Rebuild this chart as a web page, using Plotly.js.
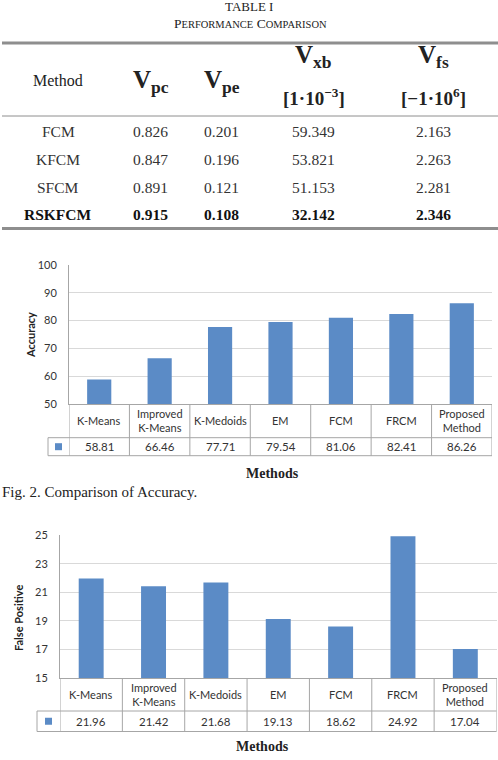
<!DOCTYPE html>
<html>
<head>
<meta charset="utf-8">
<script src="https://cdn.plot.ly/plotly-3.0.1.min.js"></script>
<style>
  html, body { margin: 0; padding: 0; background: #fff; }
  #fig { width: 498px; height: 760px; }
</style>
</head>
<body>
<div id="fig"></div>
<script>
// ---- Table I: performance comparison ----
const tableMethods = ['FCM', 'KFCM', 'SFCM', 'RSKFCM'];
const vpc = [0.826, 0.847, 0.891, 0.915];
const vpe = [0.201, 0.196, 0.121, 0.108];
const vxb = [59.349, 53.821, 51.153, 32.142];
const vfs = [2.163, 2.263, 2.281, 2.346];
const headerSubs = ['pc', 'pe', 'xb', 'fs'];
const headerUnits = ['', '', '[1·10<sup>−3</sup>]', '[−1·10<sup>6</sup>]'];

// ---- Fig. 2 / Fig. 3 bar charts ----
const methods = ['K-Means', 'Improved K-Means', 'K-Medoids', 'EM', 'FCM', 'FRCM', 'Proposed Method'];
const methodLabels = ['K-Means', 'Improved<br>K-Means', 'K-Medoids', 'EM', 'FCM', 'FRCM', 'Proposed<br>Method'];
const accuracy = [58.81, 66.46, 77.71, 79.54, 81.06, 82.41, 86.26];
const falsePositive = [21.96, 21.42, 21.68, 19.13, 18.62, 24.92, 17.04];

const W = 498, H = 760;
const px = x => x / W;
const py = y => 1 - y / H;

const BAR = '#5B8BC6';
const GRID = '#D9D9D9';
const EDGE = '#A6A6A6';
const SERIF = 'Liberation Serif, Times New Roman, serif';
const SANS = 'Lato, Open Sans, sans-serif';

const annotations = [];
const shapes = [];

function note(text, x, y, opts) {
  annotations.push(Object.assign({
    text: text, x: px(x), y: py(y), xref: 'paper', yref: 'paper',
    showarrow: false, xanchor: 'center', yanchor: 'middle',
    font: { family: SERIF, size: 15, color: '#222' }
  }, opts || {}));
}
function hline(x0, x1, y, color, width) {
  shapes.push({ type: 'line', xref: 'paper', yref: 'paper',
    x0: px(x0), x1: px(x1), y0: py(y), y1: py(y),
    line: { color: color, width: width } });
}

// Table title
note('TABLE I', 249, 6.5, { font: { family: SERIF, size: 13, color: '#222' } });
note('P<span style="font-size:10.5px">ERFORMANCE</span> C<span style="font-size:10.5px">OMPARISON</span>',
  250, 23.5, { font: { family: SERIF, size: 13.5, color: '#222' } });

// Table rules
hline(2, 498, 43, '#8E8E8E', 3);
hline(2, 498, 116, '#8E8E8E', 1);
hline(2, 498, 228.5, '#8E8E8E', 3);

// Header row
const colX = [58, 150.5, 221.5, 313.5, 433];
note('Method', colX[0], 80, { font: { family: SERIF, size: 16, color: '#222' } });
headerSubs.forEach((s, i) => {
  const hasUnit = headerUnits[i] !== '';
  note('<b>V<sub>' + s + '</sub></b>', colX[i + 1], hasUnit ? 57 : 81,
    { font: { family: SERIF, size: 25, color: '#222' } });
  if (hasUnit) {
    note('<b>' + headerUnits[i] + '</b>', colX[i + 1], 97,
      { font: { family: SERIF, size: 19, color: '#222' } });
  }
});

// Body rows
const rowY = [131.5, 159.5, 187.5, 214.5];
tableMethods.forEach((m, r) => {
  const bold = m === 'RSKFCM';
  const cells = [m, vpc[r].toFixed(3), vpe[r].toFixed(3), vxb[r].toFixed(3), vfs[r].toFixed(3)];
  cells.forEach((c, i) => {
    note(bold ? '<b>' + c + '</b>' : c, colX[i], rowY[r],
      { font: { family: SERIF, size: 15.5, color: bold ? '#111' : '#333' } });
  });
});

// ---- Chart panels with data table underneath ----
function panel(o) {
  const xa = o.ax === 1 ? 'x' : 'x' + o.ax;
  // table horizontal rules
  hline(o.legendLeft, o.right, o.row1, EDGE, 1);
  hline(o.legendLeft, o.right, o.row2, EDGE, 1);
  // legend cell left border
  shapes.push({ type: 'line', xref: 'paper', yref: 'paper',
    x0: px(o.legendLeft), x1: px(o.legendLeft), y0: py(o.row1), y1: py(o.row2),
    line: { color: EDGE, width: 1 } });
  // column separators follow the category bands
  for (let i = 0; i <= methods.length; i++) {
    shapes.push({ type: 'line', xref: xa, yref: 'paper',
      x0: i - 0.5, x1: i - 0.5, y0: py(o.bottom), y1: py(o.row2),
      line: { color: EDGE, width: 1 } });
  }
  // legend swatch
  const sx = (o.legendLeft + o.left) / 2;
  const sy = (o.row1 + o.row2) / 2;
  shapes.push({ type: 'rect', xref: 'paper', yref: 'paper',
    x0: px(sx - 3.5), x1: px(sx + 3.5), y0: py(sy + 3.5), y1: py(sy - 3.5),
    fillcolor: BAR, line: { width: 0 } });
  // category labels and values
  methods.forEach((m, i) => {
    annotations.push({ text: methodLabels[i], x: m, xref: xa, y: py((o.bottom + o.row1) / 2), yref: 'paper',
      showarrow: false, xanchor: 'center', yanchor: 'middle',
      font: { family: SANS, size: 11, color: '#333' } });
    annotations.push({ text: o.values[i].toFixed(2), x: m, xref: xa, y: py(sy), yref: 'paper',
      showarrow: false, xanchor: 'center', yanchor: 'middle',
      font: { family: SANS, size: 11.5, color: '#333' } });
  });
  // axis titles
  note('<b>' + o.ytitle + '</b>', o.ytitleX, o.ytitleY,
    { textangle: -90, font: { family: SANS, size: 11, color: '#222' } });
  note('<b>Methods</b>', o.xtitleX, o.xtitleY, { font: { family: SERIF, size: 14, color: '#222' } });
}

const p1 = { ax: 1, left: 69, right: 492, top: 265, bottom: 404, row1: 437.7, row2: 455.7,
  legendLeft: 48, values: accuracy, ytitle: 'Accuracy', ytitleX: 30, ytitleY: 335,
  xtitleX: 272, xtitleY: 473 };
const p2 = { ax: 2, left: 60, right: 496.5, top: 535, bottom: 678.3, row1: 711, row2: 731.5,
  legendLeft: 37, values: falsePositive, ytitle: 'False Positive', ytitleX: 18, ytitleY: 618,
  xtitleX: 262, xtitleY: 746.5 };
panel(p1);
panel(p2);

note('Fig. 2. Comparison of Accuracy.', 0, 492,
  { xanchor: 'left', font: { family: SERIF, size: 15, color: '#222' } });

const yAxisBase = {
  showgrid: true, gridcolor: GRID, gridwidth: 1, zeroline: false,
  showline: true, linecolor: EDGE, linewidth: 1, ticks: '',
  ticklabelstandoff: 9,
  tickfont: { family: SANS, size: 11, color: '#333' }
};
const xAxisBase = {
  type: 'category', showticklabels: false, showgrid: false, zeroline: false,
  showline: true, linecolor: EDGE, linewidth: 1, ticks: '', range: [-0.5, 6.5], fixedrange: true
};

const data = [
  { type: 'bar', x: methods, y: accuracy, xaxis: 'x', yaxis: 'y',
    marker: { color: BAR, line: { width: 0 } }, hoverinfo: 'x+y' },
  { type: 'bar', x: methods, y: falsePositive, xaxis: 'x2', yaxis: 'y2',
    marker: { color: BAR, line: { width: 0 } }, hoverinfo: 'x+y' }
];

const layout = {
  width: W, height: H,
  margin: { l: 0, r: 0, t: 0, b: 0 },
  paper_bgcolor: '#fff', plot_bgcolor: '#fff',
  showlegend: false, bargap: 0.6,
  font: { family: SANS },
  xaxis: Object.assign({}, xAxisBase, { domain: [px(p1.left), px(p1.right)], anchor: 'y' }),
  yaxis: Object.assign({}, yAxisBase, { domain: [py(p1.bottom), py(p1.top)], anchor: 'x',
    range: [50, 100], dtick: 10, tick0: 50 }),
  xaxis2: Object.assign({}, xAxisBase, { domain: [px(p2.left), px(p2.right)], anchor: 'y2' }),
  yaxis2: Object.assign({}, yAxisBase, { domain: [py(p2.bottom), py(p2.top)], anchor: 'x2',
    range: [15, 25], dtick: 2, tick0: 15 }),
  annotations: annotations,
  shapes: shapes
};

Plotly.newPlot('fig', data, layout, { staticPlot: true, displayModeBar: false });
</script>
</body>
</html>
